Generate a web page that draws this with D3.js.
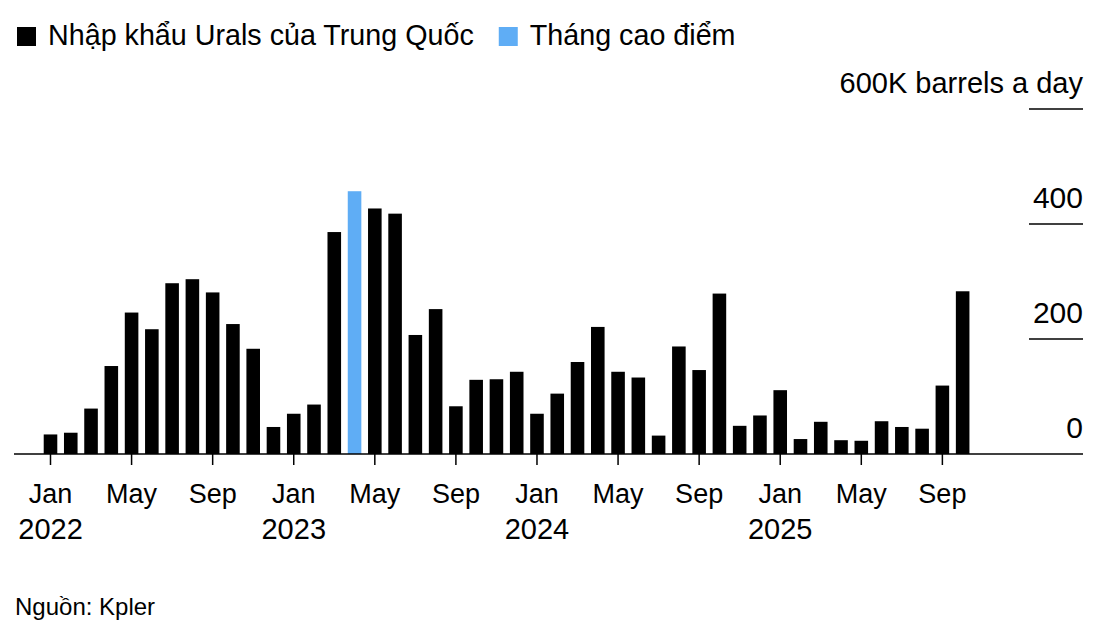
<!DOCTYPE html>
<html>
<head>
<meta charset="utf-8">
<script src="https://cdn.jsdelivr.net/npm/d3@7"></script>
<style>
  html, body { margin: 0; padding: 0; background: #fff; }
  svg { display: block; font-family: "Liberation Sans", Arial, Helvetica, sans-serif; }
</style>
</head>
<body>
<svg id="chart" width="1109" height="641"></svg>
<script>
// ---- Data (thousand barrels per day, China's Urals imports) ----
const months = [
  "2022-01","2022-02","2022-03","2022-04","2022-05","2022-06","2022-07","2022-08","2022-09","2022-10","2022-11","2022-12",
  "2023-01","2023-02","2023-03","2023-04","2023-05","2023-06","2023-07","2023-08","2023-09","2023-10","2023-11","2023-12",
  "2024-01","2024-02","2024-03","2024-04","2024-05","2024-06","2024-07","2024-08","2024-09","2024-10","2024-11","2024-12",
  "2025-01","2025-02","2025-03","2025-04","2025-05","2025-06","2025-07","2025-08","2025-09","2025-10"
];
const imports = [
  34, 37, 79, 153, 246, 217, 297, 304, 281, 226, 183, 47,
  70, 86, 386, 457, 427, 418, 207, 252, 83, 129, 130, 143,
  70, 105, 160, 221, 143, 133, 32, 187, 146, 279, 49, 67,
  111, 26, 56, 24, 23, 57, 47, 44, 119, 283
];
const peakMonth = "2023-04";
const yTicks = [0, 200, 400, 600];
const yTickLabels = ["0", "200", "400", "600K barrels a day"];
const xTickMonths = ["2022-01","2022-05","2022-09","2023-01","2023-05","2023-09","2024-01","2024-05","2024-09","2025-01","2025-05","2025-09"];
const monthNames = {"01":"Jan","05":"May","09":"Sep"};
const legendItems = [
  {label: "Nhập khẩu Urals của Trung Quốc", color: "#000000"},
  {label: "Tháng cao điểm", color: "#5fadf5"}
];
const sourceText = "Nguồn: Kpler";

// ---- Layout ----
const svg = d3.select("#chart");
const baseY = 454, topY = 109;
const stepPx = 20.27;
const x0 = 50.5 - stepPx / 2;
const x = d3.scaleBand()
  .domain(months)
  .range([x0, x0 + stepPx * months.length])
  .paddingInner(0.33)
  .paddingOuter(0.165);
const y = d3.scaleLinear().domain([0, 600]).range([baseY, topY]);

// Bars
svg.append("g").selectAll("rect")
  .data(months.map((m, i) => ({m, v: imports[i]})))
  .join("rect")
  .attr("x", d => x(d.m))
  .attr("width", x.bandwidth())
  .attr("y", d => y(d.v))
  .attr("height", d => y(0) - y(d.v))
  .attr("fill", d => d.m === peakMonth ? legendItems[1].color : legendItems[0].color);

// Baseline
svg.append("line")
  .attr("x1", 14).attr("x2", 1083)
  .attr("y1", y(0)).attr("y2", y(0))
  .attr("stroke", "#000").attr("stroke-width", 1.5);

// X axis ticks
const xAxis = d3.axisBottom(x)
  .tickValues(xTickMonths)
  .tickSize(11)
  .tickFormat("");
const gx = svg.append("g").attr("transform", `translate(0,${y(0)})`).call(xAxis);
gx.select(".domain").remove();
gx.selectAll(".tick line").attr("stroke", "#000").attr("stroke-width", 1.5);
gx.selectAll(".tick").each(function(d) {
  const [yr, mo] = d.split("-");
  const g = d3.select(this);
  g.append("text")
    .attr("fill", "#000")
    .attr("text-anchor", "middle")
    .attr("x", 0).attr("y", 49)
    .style("font-size", "27px")
    .text(monthNames[mo]);
  if (mo === "01") {
    g.append("text")
      .attr("fill", "#000")
      .attr("text-anchor", "middle")
      .attr("x", 0).attr("y", 85)
      .style("font-size", "29px")
      .text(yr);
  }
});

// Right y axis: short gridlines with labels above
const gy = svg.append("g");
yTicks.forEach((v, i) => {
  if (v !== 0) {
    gy.append("line")
      .attr("x1", 1029).attr("x2", 1083)
      .attr("y1", y(v)).attr("y2", y(v))
      .attr("stroke", "#000").attr("stroke-width", 1.5);
  }
  gy.append("text")
    .attr("x", 1083).attr("y", y(v) - 16)
    .attr("text-anchor", "end")
    .attr("fill", "#000")
    .style("font-size", v === 600 ? "29px" : "30px")
    .text(yTickLabels[i]);
});

// Legend
const lg = svg.append("g");
let lx = 17;
legendItems.forEach(item => {
  lg.append("rect").attr("x", lx).attr("y", 27).attr("width", 19).attr("height", 19).attr("fill", item.color);
  const t = lg.append("text").attr("x", lx + 31).attr("y", 45)
    .attr("fill", "#000").style("font-size", "28.7px").text(item.label);
  lx += 31 + t.node().getComputedTextLength() + 25;
});

// Source
svg.append("text").attr("x", 15).attr("y", 615)
  .attr("fill", "#000").style("font-size", "24px").text(sourceText);
</script>
</body>
</html>
